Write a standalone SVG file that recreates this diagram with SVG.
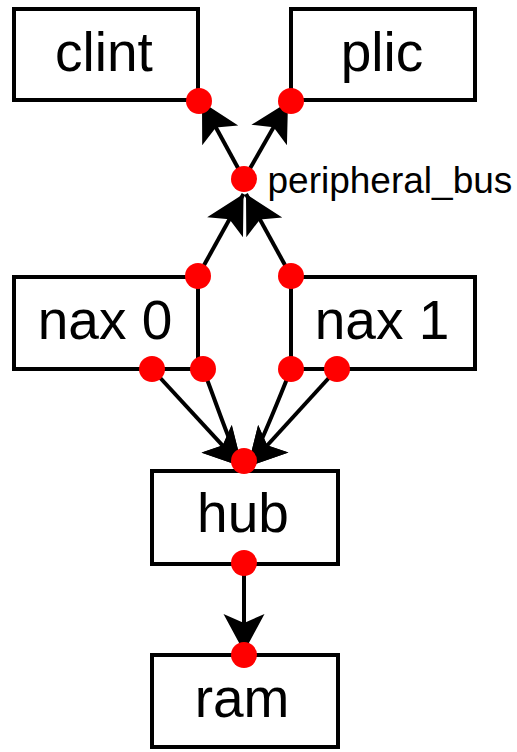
<svg xmlns="http://www.w3.org/2000/svg" width="517" height="752" viewBox="0 0 517 752">
  <style>
    .box { fill: #ffffff; stroke: #000000; stroke-width: 4; }
    .lbl { font-family: "Liberation Sans", Arial, sans-serif; font-size: 55px; fill: #000000; text-anchor: middle; }
    .small { font-family: "Liberation Sans", Arial, sans-serif; font-size: 37px; fill: #000000; }
    .edge { fill: none; stroke: #000000; stroke-width: 4; marker-end: url(#vee); }
    .port { fill: #ff0000; }
  </style>
  <defs>
    <!-- barbed "vee" arrowhead, tip at the path end -->
    <marker id="vee" markerUnits="userSpaceOnUse" markerWidth="44" markerHeight="44"
            viewBox="-40 -22 44 44" refX="0" refY="0" orient="auto" overflow="visible">
      <path d="M0,0 L-38,-20.5 L-29,0 L-38,20.5 Z" fill="#000000"/>
    </marker>
  </defs>

  <rect width="517" height="752" fill="#ffffff"/>

  <!-- connectors -->
  <g id="edges">
    <path class="edge" d="M244,179 L202,102"/>
    <path class="edge" d="M244,179 L288,102"/>
    <path class="edge" d="M198,276 L243.5,194"/>
    <path class="edge" d="M291,276 L246,194"/>
    <path class="edge" d="M152,369 L242.3,466.8"/>
    <path class="edge" d="M203,369 C214,396 234.2,457.9 242.3,466.8"/>
    <path class="edge" d="M291,369 C280,396 255.8,457.9 247.7,466.8"/>
    <path class="edge" d="M337,369 L247.7,466.8"/>
    <path class="edge" d="M244,563 L244,652"/>
  </g>

  <g id="clint">
    <rect class="box" x="14" y="9" width="184" height="91"/>
    <text class="lbl" x="104" y="71">clint</text>
  </g>
  <g id="plic">
    <rect class="box" x="291" y="9" width="184" height="91"/>
    <text class="lbl" x="382" y="71">plic</text>
  </g>
  <g id="peripheral_bus">
    <text class="small" x="267.5" y="192.7">peripheral_bus</text>
  </g>
  <g id="nax0">
    <rect class="box" x="14" y="277" width="184" height="92"/>
    <text class="lbl" x="105" y="339">nax 0</text>
  </g>
  <g id="nax1">
    <rect class="box" x="291" y="277" width="184" height="92"/>
    <text class="lbl" x="382" y="339">nax 1</text>
  </g>
  <g id="hub">
    <rect class="box" x="152" y="471" width="186" height="93"/>
    <text class="lbl" x="243" y="532">hub</text>
  </g>
  <g id="ram">
    <rect class="box" x="152" y="655" width="186" height="92"/>
    <text class="lbl" x="242" y="717">ram</text>
  </g>

  <!-- port dots drawn on top of boxes and connectors -->
  <g id="ports">
    <circle class="port" cx="199" cy="101" r="13"/>
    <circle class="port" cx="291" cy="101" r="13"/>
    <circle class="port" cx="244" cy="179" r="13"/>
    <circle class="port" cx="198" cy="276" r="13"/>
    <circle class="port" cx="291" cy="276" r="13"/>
    <circle class="port" cx="152" cy="369" r="13"/>
    <circle class="port" cx="203" cy="369" r="13"/>
    <circle class="port" cx="291" cy="369" r="13"/>
    <circle class="port" cx="337" cy="369" r="13"/>
    <circle class="port" cx="244" cy="461" r="13"/>
    <circle class="port" cx="244" cy="563" r="13"/>
    <circle class="port" cx="244" cy="655" r="13"/>
  </g>
</svg>
